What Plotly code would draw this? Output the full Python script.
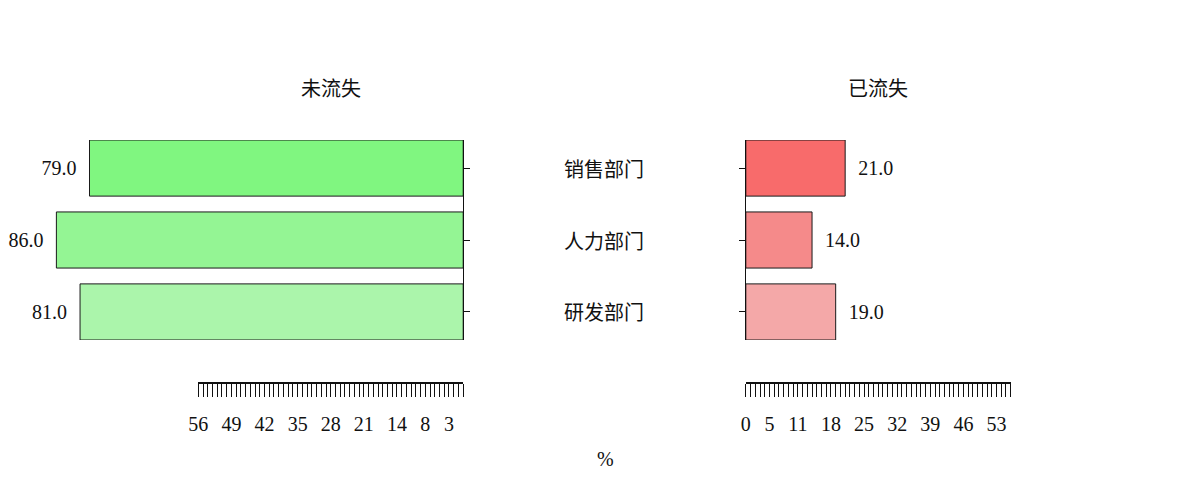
import plotly.graph_objects as go

# ---- data ----
categories = ["销售部门", "人力部门", "研发部门"]
retained = [79.0, 86.0, 81.0]      # 未流失 (%)
churned = [21.0, 14.0, 19.0]       # 已流失 (%)
left_title = "未流失"
right_title = "已流失"
axis_title = "%"
left_tickvals = [56, 49, 42, 35, 28, 21, 14, 8, 3]
right_tickvals = [0, 5, 11, 18, 25, 32, 39, 46, 53]
ruler_max = 56

green_colors = ["#80F680", "#94F594", "#ABF5AB"]
red_colors = ["#F86B6B", "#F58A8A", "#F4A8A8"]

W, H = 1200, 480
PX_PER_UNIT = 4.77
left_zero_px = 457
right_zero_px = 742
bar_top_px, bar_bot_px = 140, 340
ruler_px = 383

FONT = "Liberation Serif, Noto Sans CJK SC"
CJK = "Noto Sans CJK SC, Liberation Serif"
NB = "\u00a0\u00a0"

fig = go.Figure()

fig.add_trace(go.Bar(
    y=categories, x=retained, orientation="h",
    marker=dict(color=green_colors, line=dict(color="#1a1a1a", width=1)),
    width=0.78,
    texttemplate="%{x:.1f}" + NB, textposition="outside", cliponaxis=False,
    textfont=dict(family=FONT, size=20, color="#111"),
    xaxis="x", yaxis="y", showlegend=False, hoverinfo="skip",
))
fig.add_trace(go.Bar(
    y=categories, x=churned, orientation="h",
    marker=dict(color=red_colors, line=dict(color="#1a1a1a", width=1)),
    width=0.78,
    texttemplate=NB + "%{x:.1f}", textposition="outside", cliponaxis=False,
    textfont=dict(family=FONT, size=20, color="#111"),
    xaxis="x2", yaxis="y2", showlegend=False, hoverinfo="skip",
))
# empty traces to register the ruler axes
fig.add_trace(go.Scatter(x=[], y=[], xaxis="x3", yaxis="y", showlegend=False))
fig.add_trace(go.Scatter(x=[], y=[], xaxis="x4", yaxis="y2", showlegend=False))

ydom = [1 - bar_bot_px / H, 1 - bar_top_px / H]
ruler_len = ruler_max * PX_PER_UNIT

common_y = dict(
    domain=ydom, type="category", categoryorder="array", categoryarray=categories,
    range=[2.39, -0.39], showline=True, linecolor="#111", linewidth=1,
    ticks="outside", ticklen=6, tickcolor="#111", showticklabels=False,
    showgrid=False, zeroline=False, fixedrange=True,
)
ruler_common = dict(
    anchor="free", position=1 - ruler_px / H, side="bottom",
    showline=True, linecolor="#111", linewidth=2,
    ticks="outside", ticklen=13, tickwidth=1, tickcolor="#111",
    minor=dict(dtick=1, tick0=0, ticks="outside", ticklen=13, tickwidth=1, tickcolor="#111", showgrid=False),
    showgrid=False, zeroline=False, tickfont=dict(family=FONT, size=20, color="#111"),
    tickmode="array", ticklabelstandoff=10,
)

fig.update_layout(
    width=W, height=H, margin=dict(l=0, r=0, t=0, b=0),
    paper_bgcolor="white", plot_bgcolor="rgba(0,0,0,0)",
    font=dict(family=FONT, size=20, color="#111"),
    showlegend=False,
    xaxis=dict(domain=[0, left_zero_px / W], range=[left_zero_px / PX_PER_UNIT, 0],
               visible=False, anchor="y", fixedrange=True),
    yaxis=dict(anchor="x", side="right", **common_y),
    xaxis2=dict(domain=[right_zero_px / W, 1], range=[0, (W - right_zero_px) / PX_PER_UNIT],
                visible=False, anchor="y2", fixedrange=True),
    yaxis2=dict(anchor="x2", side="left", **common_y),
    xaxis3=dict(domain=[(left_zero_px - ruler_len) / W, left_zero_px / W],
                range=[ruler_max, 0], tickvals=left_tickvals,
                ticktext=[str(v) for v in left_tickvals], **ruler_common),
    xaxis4=dict(domain=[right_zero_px / W, (right_zero_px + ruler_len) / W],
                range=[0, ruler_max], tickvals=right_tickvals,
                ticktext=[str(v) for v in right_tickvals], **ruler_common),
)

annotations = [
    dict(text=left_title, x=(left_zero_px - ruler_len / 2) / W, y=1 - 87 / H,
         xref="paper", yref="paper", showarrow=False, xanchor="center", yanchor="middle",
         font=dict(family=CJK, size=20, color="#111")),
    dict(text=right_title, x=(right_zero_px + ruler_len / 2) / W, y=1 - 87 / H,
         xref="paper", yref="paper", showarrow=False, xanchor="center", yanchor="middle",
         font=dict(family=CJK, size=20, color="#111")),
    dict(text=axis_title, x=600 / W, y=1 - 459 / H,
         xref="paper", yref="paper", showarrow=False, xanchor="center", yanchor="middle",
         font=dict(family=FONT, size=20, color="#111")),
]
for c in categories:
    annotations.append(dict(text=c, x=557 / W, y=c, xref="paper", yref="y2",
                            showarrow=False, xanchor="left", yanchor="middle",
                            font=dict(family=CJK, size=20, color="#111")))
fig.update_layout(annotations=annotations)

fig.write_html("out.html")
